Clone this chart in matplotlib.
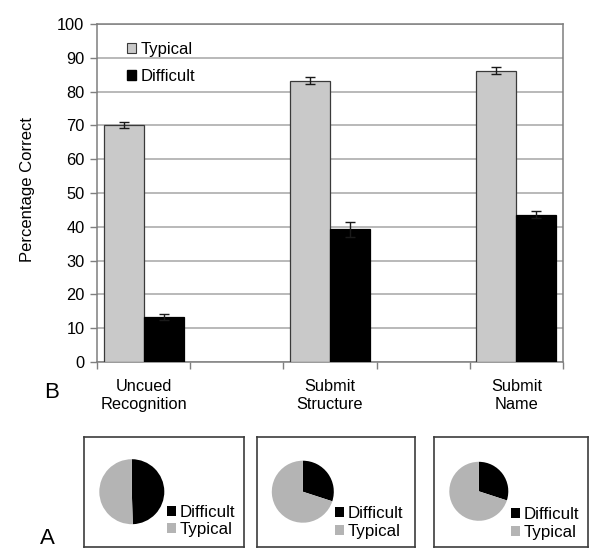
import matplotlib
matplotlib.use("Agg")
import matplotlib.pyplot as plt
from matplotlib.patches import Patch
import numpy as np

plt.rcParams['font.family'] = ['Liberation Sans', 'DejaVu Sans']

categories = ['Uncued\nRecognition', 'Submit\nStructure', 'Submit\nName']
typical = [70.1, 83.2, 86.2]
typical_err = [0.9, 1.0, 1.0]
difficult = [13.3, 39.3, 43.6]
difficult_err = [1.0, 2.2, 1.0]
pie_difficult = [49.5, 30.0, 30.0]
pie_typical = [50.5, 70.0, 70.0]

W, H = 601, 558
fig = plt.figure(figsize=(W / 100, H / 100), dpi=100)

def fbox(x0, y0, x1, y1):
    return [x0 / W, 1 - y1 / H, (x1 - x0) / W, (y1 - y0) / H]

BAR_TYP = '#c9c9c9'
PIE_TYP = '#b4b4b4'
GRID = '#a6a6a6'
SPINE = '#7f7f7f'

# ---------------- Bar chart (B) ----------------
ax = fig.add_axes(fbox(97, 24, 563, 362))
slots = np.array([0, 2, 4])
w = 0.43
ax.bar(slots - w / 2, typical, width=w, color=BAR_TYP, edgecolor='#3a3a3a',
       linewidth=0.9, zorder=3)
ax.bar(slots + w / 2, difficult, width=w, color='black', edgecolor='black',
       linewidth=0.9, zorder=3)
ax.errorbar(slots - w / 2, typical, yerr=typical_err, fmt='none', ecolor='#1a1a1a',
            elinewidth=1, capsize=3.6, capthick=1, zorder=4)
ax.errorbar(slots + w / 2, difficult, yerr=difficult_err, fmt='none', ecolor='#1a1a1a',
            elinewidth=1, capsize=3.6, capthick=1, zorder=4)

ax.set_xlim(-0.5, 4.5)
ax.set_ylim(0, 100)
ax.set_yticks(np.arange(0, 101, 10))
ax.set_xticks(np.arange(-0.5, 4.6, 1))
ax.set_xticklabels([])
ax.set_xticks(slots, minor=True)
ax.set_xticklabels(categories, minor=True, fontsize=11.8, linespacing=1.25)
ax.tick_params(axis='x', which='minor', length=0, pad=12)
ax.tick_params(axis='x', which='major', length=5, color=SPINE, width=1)
ax.tick_params(axis='y', length=5, color=SPINE, width=1, labelsize=11.8, pad=4)
ax.yaxis.grid(True, color=GRID, linewidth=1.1, zorder=0)
ax.set_axisbelow(True)
for s in ax.spines.values():
    s.set_color(SPINE)
    s.set_linewidth(1.1)

fig.text(28 / W, 1 - 190 / H, 'Percentage Correct', rotation=90, ha='center',
         va='center', fontsize=12)

ax.legend(handles=[Patch(facecolor=BAR_TYP, edgecolor='#3a3a3a', linewidth=0.8),
                   Patch(facecolor='black', edgecolor='black')],
          labels=['Typical', 'Difficult'], loc='upper left',
          bbox_to_anchor=(0.064, 0.948), frameon=False, fontsize=12,
          handlelength=0.55, handleheight=0.55, handletextpad=0.25,
          labelspacing=0.72, borderpad=0, borderaxespad=0)

fig.text(52 / W, 1 - 393 / H, 'B', ha='center', va='center', fontsize=16)

# ---------------- Pie panels (A) ----------------
boxes = [(84, 437, 244, 547), (257, 437, 415, 547), (434, 437, 588, 547)]
pies = [(131.8, 491.7, 65), (302.8, 491.7, 62), (478.8, 491.3, 59)]
leg_anchor = [(0.517, 0.236), (0.494, 0.223), (0.500, 0.215)]

for i in range(3):
    bx = fig.add_axes(fbox(*boxes[i]))
    bx.set_xticks([])
    bx.set_yticks([])
    for s in bx.spines.values():
        s.set_color('#3c3c3c')
        s.set_linewidth(1.2)
    cx, cy, d = pies[i]
    pax = fig.add_axes(fbox(cx - d / 2, cy - d / 2, cx + d / 2, cy + d / 2))
    pax.pie([pie_difficult[i], pie_typical[i]], colors=['black', PIE_TYP],
            startangle=90, counterclock=False, radius=1,
            wedgeprops=dict(linewidth=0))
    pax.set_xlim(-1, 1)
    pax.set_ylim(-1, 1)
    pax.set_aspect('equal')
    pax.axis('off')
    bx.legend(handles=[Patch(facecolor='black'), Patch(facecolor=PIE_TYP)],
              labels=['Difficult', 'Typical'], loc='center left',
              bbox_to_anchor=leg_anchor[i], frameon=False, fontsize=12.2,
              handlelength=0.55, handleheight=0.55, handletextpad=0.2,
              labelspacing=0.15, borderpad=0, borderaxespad=0)

fig.text(47 / W, 1 - 538 / H, 'A', ha='center', va='center', fontsize=16)

fig.savefig('out.png', dpi=100)
